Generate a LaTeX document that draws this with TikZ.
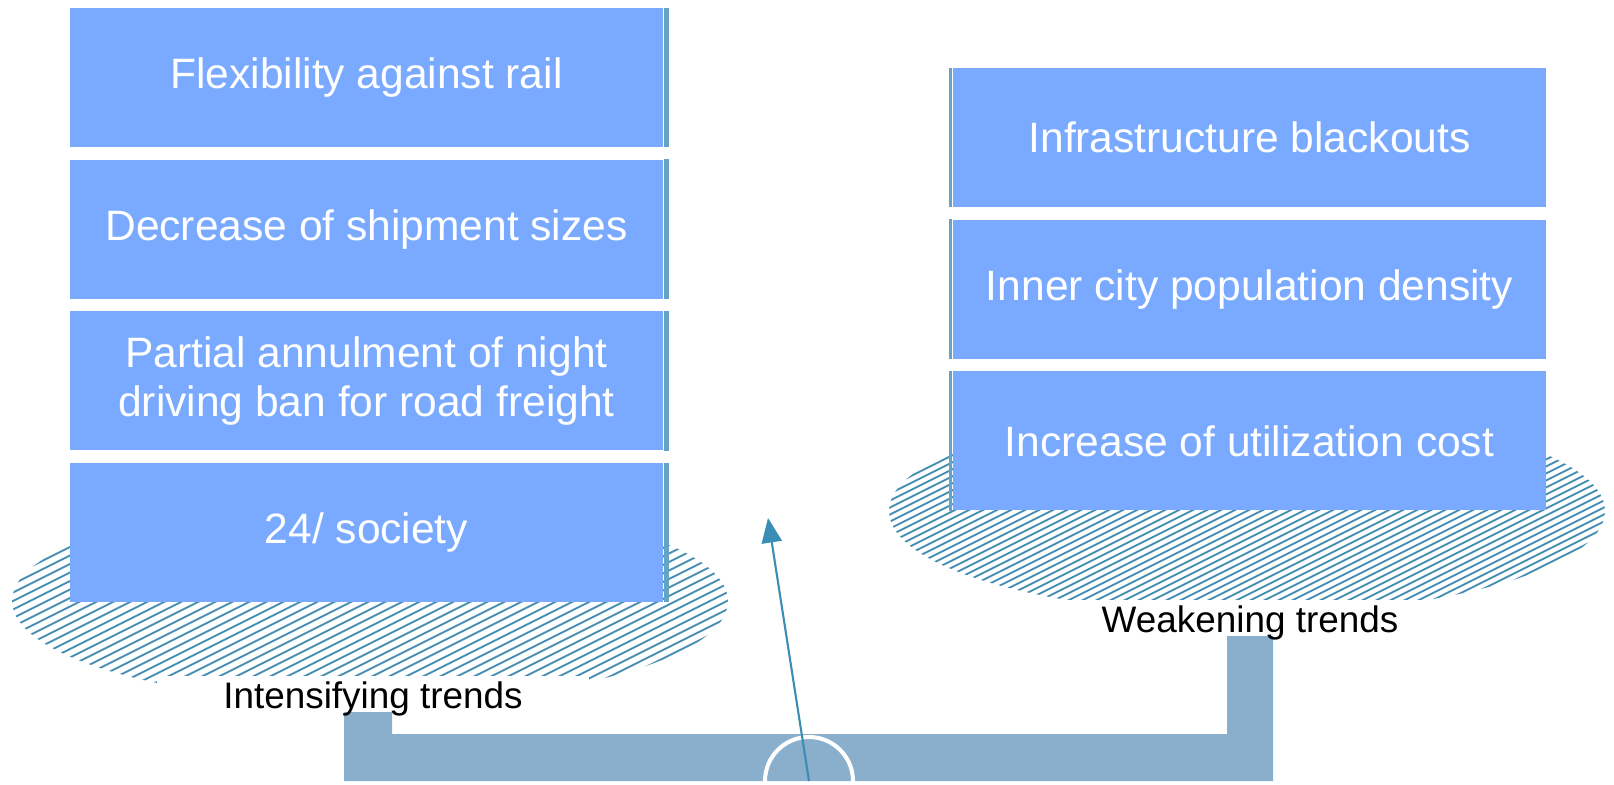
\documentclass[tikz,border=0pt]{standalone}
\usepackage{fontspec}
\setmainfont{Liberation Sans}
\usetikzlibrary{positioning,arrows.meta}

\definecolor{boxblue}{RGB}{121,170,255}
\definecolor{boxedge}{RGB}{100,164,196}
\definecolor{hatchblue}{RGB}{72,142,178}
\definecolor{barblue}{RGB}{138,175,204}
\definecolor{arrowblue}{RGB}{58,141,181}

\tikzset{
  trendbox/.style={fill=boxblue,text=white,align=center,inner sep=0pt,
    minimum width=11.88cm,minimum height=2.78cm,
    font=\fontsize{24.2}{28.2}\selectfont},
  trendlabel/.style={fill=white,anchor=base,inner sep=0pt,minimum width=8.66cm,
    text height=18.5pt,text depth=2pt,font=\fontsize{21}{25}\selectfont},
  hatch/.style={hatchblue,line width=1.1pt},
}

\begin{document}
\begin{tikzpicture}[x=0.02cm,y=-0.02cm]
       \useasboundingbox(0,0)rectangle(1614,785);

       \begin{scope}%左の斜線の楕円
           \clip(370,601)ellipse[x radius=358,y radius=102];
           \foreach \k in{-45,...,45}
               \draw[hatch](-30,601+8.5*\k+200)--(770,601+8.5*\k-200);
       \end{scope}
       \begin{scope}%右の斜線の楕円
           \clip(1247,511)ellipse[x radius=358,y radius=103];
           \foreach \k in{-55,...,55}
               \draw[hatch](847,511+7*\k+200)--(1647,511+7*\k-200);
       \end{scope}

       \node[trendbox](flex)at(366.5,77.5){Flexibility against rail};%左の箱
       \node[trendbox,below=0.24cm of flex](ship){Decrease of shipment sizes};
       \node[trendbox,below=0.24cm of ship](night){Partial annulment of night\\driving ban for road freight};
       \node[trendbox,below=0.24cm of night](society){24/ society};

       \node[trendbox](blackout)at(1249.5,137.5){Infrastructure blackouts};%右の箱
       \node[trendbox,below=0.24cm of blackout](density){Inner city population density};
       \node[trendbox,below=0.24cm of density](cost){Increase of utilization cost};

       \foreach \b in{flex,ship,night,society}
           \fill[boxedge](\b.north east)rectangle([xshift=0.1cm]\b.south east);%箱の縁
       \foreach \b in{blackout,density,cost}
           \fill[boxedge]([xshift=-0.06cm]\b.north west)rectangle(\b.south west);

       \fill[barblue](344,712)--(392,712)--(392,734)--(1227,734)
           --(1227,636)--(1273,636)--(1273,781)--(344,781)--cycle;%天秤
       \coordinate(pivot)at(809,781);%支点
       \draw[white,line width=2.3pt](pivot)circle[radius=44];

       \node[trendlabel](intens)at(373,708){Intensifying trends};
       \node[trendlabel](weaken)at(1250,632){Weakening trends};

       \coordinate(tip)at(768,518);
       \draw[arrowblue,line width=1.2pt,-{Triangle[length=14pt,width=11.5pt]}](pivot)--(tip);%矢印
\end{tikzpicture}
\end{document}
